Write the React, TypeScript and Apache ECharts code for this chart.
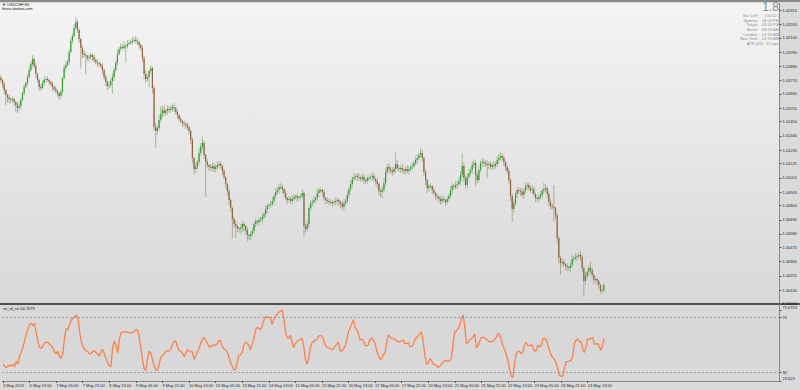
import React, { useEffect, useRef } from "react";
import * as echarts from "echarts";

const FIRST_OPEN = 1.0179;

const CLOSES = [
  1.01773,1.01742,1.01695,1.01657,1.01641,1.01626,
  1.01618,1.01626,1.01602,1.01579,1.01556,1.01571,
  1.01618,1.01672,1.01719,1.01750,1.01796,1.01850,
  1.01897,1.01936,1.01881,1.01819,1.01773,1.01719,
  1.01711,1.01750,1.01773,1.01781,1.01773,1.01757,
  1.01742,1.01719,1.01703,1.01688,1.01672,1.01649,
  1.01680,1.01788,1.01866,1.01889,1.01912,1.01990,
  1.02075,1.02114,1.02176,1.02222,1.02160,1.02091,
  1.02021,1.01974,1.01967,1.01959,1.01943,1.01951,
  1.01967,1.01951,1.01928,1.01912,1.01905,1.01897,
  1.01881,1.01850,1.01796,1.01757,1.01726,1.01734,
  1.01765,1.01796,1.01850,1.01905,1.01974,1.02013,
  1.02029,1.02021,1.02036,1.02036,1.02052,1.02060,
  1.02067,1.02075,1.02083,1.02075,1.02067,1.02044,
  1.02021,1.01943,1.01819,1.01781,1.01796,1.01843,
  1.01866,1.01711,1.01409,1.01378,1.01401,1.01463,
  1.01509,1.01540,1.01517,1.01533,1.01548,1.01540,
  1.01548,1.01564,1.01556,1.01525,1.01502,1.01471,
  1.01455,1.01440,1.01432,1.01424,1.01409,1.01378,
  1.01308,1.01168,1.01083,1.01099,1.01137,1.01207,
  1.01254,1.01285,1.01192,1.01137,1.01114,1.01099,
  1.01091,1.01106,1.01083,1.01099,1.01114,1.01122,
  1.01106,1.01068,1.01021,1.00967,1.00913,1.00843,
  1.00781,1.00696,1.00657,1.00641,1.00626,1.00618,
  1.00626,1.00657,1.00641,1.00610,1.00572,1.00564,
  1.00579,1.00603,1.00657,1.00680,1.00672,1.00688,
  1.00696,1.00711,1.00734,1.00773,1.00796,1.00804,
  1.00812,1.00835,1.00874,1.00905,1.00920,1.00944,
  1.00944,1.00928,1.00897,1.00858,1.00843,1.00851,
  1.00835,1.00851,1.00866,1.00874,1.00858,1.00866,
  1.00874,1.00897,1.00641,1.00618,1.00657,1.00781,
  1.00820,1.00827,1.00843,1.00858,1.00897,1.00920,
  1.00920,1.00905,1.00858,1.00843,1.00835,1.00827,
  1.00827,1.00820,1.00827,1.00835,1.00843,1.00827,
  1.00812,1.00789,1.00820,1.00835,1.00882,1.00928,
  1.00967,1.01006,1.01021,1.01029,1.01021,1.01013,
  1.01006,1.01021,1.00998,1.00990,1.01013,1.01013,
  1.01021,1.01029,1.01006,1.00990,1.00967,1.00913,
  1.00905,1.00920,1.00975,1.01060,1.01099,1.01083,
  1.01068,1.01060,1.01083,1.01122,1.01091,1.01083,
  1.01091,1.01075,1.01068,1.01083,1.01068,1.01083,
  1.01099,1.01106,1.01130,1.01153,1.01168,1.01192,
  1.01207,1.01168,1.01060,1.00998,1.00936,1.00951,
  1.00951,1.00920,1.00897,1.00874,1.00866,1.00851,
  1.00835,1.00851,1.00843,1.00827,1.00851,1.00874,
  1.00920,1.00951,1.00944,1.00959,1.00967,1.00990,
  1.01037,1.01106,1.01013,1.00959,1.01021,1.01052,
  1.01075,1.01114,1.01130,1.01037,1.00998,1.01075,
  1.01130,1.01137,1.01130,1.01122,1.01114,1.01122,
  1.01099,1.01114,1.01106,1.01122,1.01153,1.01168,
  1.01184,1.01168,1.01137,1.01099,1.01068,1.00998,
  1.00874,1.00773,1.00820,1.00889,1.00920,1.00913,
  1.00905,1.00882,1.00913,1.00951,1.00959,1.00936,
  1.00920,1.00928,1.00889,1.00858,1.00851,1.00866,
  1.00882,1.00913,1.00928,1.00936,1.00889,1.00827,
  1.00796,1.00789,1.00781,1.00727,1.00548,1.00393,
  1.00355,1.00362,1.00347,1.00331,1.00324,1.00316,
  1.00339,1.00386,1.00393,1.00401,1.00409,1.00417,
  1.00401,1.00316,1.00215,1.00254,1.00285,1.00316,
  1.00300,1.00262,1.00223,1.00230,1.00215,1.00184,
  1.00138,1.00145,1.00184,
];

const UP_WICK_PIPS = [
  2,1,2,1,1,2, 1,2,1,1,2,3, 2,1,2,1,2,3, 2,3,1,2,1,1, 2,2,3,1,2,1, 1,2,1,2,1,1,
  2,1,2,3,2,2, 3,2,3,4,2,1, 1,2,3,2,1,2, 2,1,2,1,2,1, 1,2,1,2,1,3, 2,3,2,2,3,2,
  3,2,4,2,3,2, 2,3,2,3,2,1, 1,2,2,3,2,1, 2,1,2,3,2,4, 6,3,4,2,3,2, 3,2,3,1,2,1,
  2,1,2,1,2,1, 1,2,1,3,2,4, 3,5,2,1,2,1, 2,3,2,2,3,2, 2,1,2,1,1,2, 1,1,2,3,2,1,
  3,2,2,1,2,1, 2,3,2,2,1,2, 2,3,2,3,2,2, 2,3,2,3,2,2, 3,2,1,2,1,2, 2,3,2,1,2,1,
  2,3,1,2,3,2, 2,2,3,2,3,2, 2,1,2,1,2,2, 2,1,2,3,2,1, 1,2,3,2,3,2, 3,2,3,2,2,3,
  2,3,2,1,2,2, 2,3,2,1,2,1, 2,3,4,3,2,3, 2,3,2,9,3,2, 2,3,2,2,3,2, 2,3,2,3,3,2,
  4,2,1,2,1,2, 2,1,2,1,2,1, 2,3,2,1,2,2, 3,2,2,3,2,3, 3,10,3,2,3,3, 2,3,3,2,2,3,
  2,3,2,2,3,2, 2,2,3,2,3,3, 3,2,2,1,2,2, 1,2,3,2,2,2, 2,3,2,3,2,2, 2,3,2,1,2,2,
  3,2,5,3,1,2, 2,2,17,1,2,1, 2,3,2,1,2,1, 2,3,2,3,2,2, 3,2,1,3,2,2, 5,2,1,2,1,1,
  1,2,2,
];

const DOWN_WICK_PIPS = [
  2,3,3,8,4,3, 3,2,3,5,4,2, 2,1,2,1,2,1, 1,2,2,3,2,3, 2,1,2,2,1,2, 2,3,2,2,3,3,
  2,2,1,2,1,2, 1,2,1,1,2,3, 16,3,2,14,2,3, 2,3,2,2,3,2, 2,3,2,3,3,2, 2,10,3,2,2,1,
  2,1,2,12,2,1, 1,2,1,2,2,3, 2,3,4,3,2,8, 2,4,3,13,3,2, 2,3,2,2,3,2, 2,2,3,2,3,2,
  2,3,2,3,2,3, 3,4,4,3,2,2, 2,2,3,27,2,3, 2,3,2,3,2,2, 2,3,2,3,3,4, 3,15,3,9,3,3,
  4,3,4,3,5,3, 3,2,2,3,2,3, 2,3,2,2,3,2, 2,2,3,2,2,3, 2,3,3,2,3,2, 2,3,2,2,3,2,
  2,2,8,3,2,3, 2,3,2,2,2,3, 2,3,2,3,2,2, 2,3,2,2,3,3, 3,2,3,2,2,3, 2,3,2,2,3,2,
  2,2,3,2,2,3, 2,3,2,3,3,4, 4,5,2,3,2,3, 2,3,2,3,2,2, 3,2,3,2,2,3, 2,3,2,2,3,2,
  2,3,3,4,4,3, 2,3,2,3,2,3, 3,2,2,3,2,2, 2,3,2,2,3,2, 3,2,3,2,3,2, 2,3,2,9,3,2,
  2,3,3,2,10,3, 2,2,3,2,2,3, 2,2,3,3,2,3, 4,10,3,2,3,2, 3,2,3,2,3,2, 2,3,2,3,2,3,
  2,3,2,2,3,3, 3,2,11,3,4,4, 9,3,2,3,3,2, 3,2,3,2,3,2, 3,3,12,3,2,3, 3,2,3,2,3,3,
  2,2,2,
];

const RSI_OF_RSI = [
  36,34.5,33.5,34.5,35.3,34.6, 36,34.1,38,36,42,45, 48,53,58,62,65,66,
  64,66,59,53,48,47.5, 49.5,51.5,52.4,51.8,50.5,49.5, 48,45,43.5,45.5,41.4,40.3,
  44,55,62,61,65,68, 69.5,70.5,72,70,61,53, 49,47,45.8,45.1,43.5,43.5,
  45.5,45.8,44.5,43.2,42,45, 47,43.5,40,37,34.8,34.1, 48,53,50,44,54,58.9,
  59.4,59.7,59.7,59.5,59,58.8, 59.4,60,61.5,61,56,48, 39,32.5,31.5,40,45.5,44,
  39,35,31.7,31.7,36,41, 42,43.5,45.5,46,45.5,47, 50.5,52.6,53,49,46,45.5,
  44,41.5,43.5,46.5,46,45, 45,39.5,42,44.5,47.5,51, 54,55.5,53.5,51.5,49,48.5,
  49.5,50,50,51,53.5,53, 49,47.3,46.5,45,41,37, 34.5,31.5,32.5,37,42.5,42.7,
  45,50,52.2,51.5,49.5,46.5, 50.5,54.5,61,63,62.2,61.2, 63.5,68,71,70,70.5,70,
  65,69,71,72.5,74,74.8, 75.68,70,60,55.5,55,57.2, 52,48,51,52.7,53.4,54,
  54.9,49.5,40,36,40,48, 51.5,52.7,53.4,54,56.5,57, 56.4,54,50,48.5,48,47.3,
  46.6,47.5,49.2,50.8,52,45.5, 45.8,47,49.2,54,59.7,62.5, 65.5,68.5,62.5,61.5,58,53.7,
  54.5,53,50,49.2,50.5,54, 55.2,53.5,51,46,42,39.5, 40,43,44,52,57.5,56,
  54.9,54.9,54,53,52.4,52.4, 53,53.6,51,51,51.8,49, 48.8,50.5,54,55.5,56.8,58.2,
  59.5,52,42,36,36.5,40, 38.5,36.2,35.6,34.8,33.5,34.5, 36,37.5,38.5,38.7,38,38.5,
  40.3,52,59.3,60.5,62,64.5, 70,72,63,51,52,54, 54.5,56,58,48,49.5,53,
  55.5,55.8,55,54.3,53,52.4, 52.4,52.8,54.3,55.7,58.5,57.4, 53.5,49.5,46.5,43,38.5,32,
  27.2,26.3,37,43.5,45.5,45.3, 43.5,45,50.5,51.8,49.5,49.5, 50.3,48.5,45.5,46,49.8,48.5,
  49.5,54.5,54.6,54.3,50,46, 42.5,40.8,39.5,37,32.5,27.5, 27.3,27.3,33,37.8,37.8,38.2,
  38.7,42,51,53.5,54.5,52.5, 52.4,47,44.5,48.5,54.5,54, 55,55.5,50.5,50.8,51,48.5,
  46,50,54.7579,
];

const TIME_TICKS = [
  "3 May 2019", "6 May 13:00", "7 May 05:00", "7 May 21:00", "8 May 13:00",
  "9 May 05:00", "9 May 21:00", "10 May 13:00", "13 May 05:00", "13 May 21:00",
  "14 May 13:00", "15 May 05:00", "15 May 21:00", "16 May 13:00", "17 May 05:00",
  "17 May 21:00", "20 May 13:00", "21 May 05:00", "21 May 21:00", "22 May 13:00",
  "23 May 05:00", "23 May 21:00", "24 May 13:00",
];
const BARS_PER_TICK = 16;
const TOTAL_SLOTS = 468;

const PRICE_TICKS = [
  1.0004, 1.00145, 1.00255, 1.00365, 1.00475, 1.0058, 1.0069, 1.008, 1.00905,
  1.01015, 1.01125, 1.0123, 1.0134, 1.0145, 1.01555, 1.01665, 1.0177, 1.0188,
  1.0199, 1.021, 1.02205, 1.02315,
];
const IND_TICKS = [75.6753, 70, 30, 23.623];
const IND_LEVELS = [70, 30];

const INFO_LABELS = ["Bar Left:", "Sydney:", "Tokyo:", "Berlin:", "London:", "New York:"];
const INFO_VALUES = ["[ 00:02 ]", "04:59 PM", "03:59 PM", "08:59 AM", "07:59 AM", "02:59 AM"];

const FONT = "'Liberation Sans', Arial, sans-serif";

export default function App() {
  const ref = useRef<HTMLDivElement>(null);

  useEffect(() => {
    const chart = echarts.init(ref.current!, null, { renderer: "svg" });
    const cats = Array.from({ length: TOTAL_SLOTS }, (_, i) => String(i));
    const candles = CLOSES.map((c, i) => {
      const o = i === 0 ? FIRST_OPEN : CLOSES[i - 1];
      const h = Math.max(o, c) + UP_WICK_PIPS[i] * 0.0001;
      const l = Math.min(o, c) - DOWN_WICK_PIPS[i] * 0.0001;
      return [i, o, c, l, h];
    });
    const last = CLOSES[CLOSES.length - 1];
    const isTick = (idx: number) => idx % BARS_PER_TICK === 0 && idx / BARS_PER_TICK < TIME_TICKS.length;

    const rowTop = 13.6;
    const rowStep = 4.6;
    const infoTexts: any[] = [];
    INFO_LABELS.forEach((lab, k) => {
      const y = rowTop + k * rowStep;
      infoTexts.push({
        type: "text", right: 42, top: y,
        style: { text: lab, fill: "#8a8a8a", font: `4px ${FONT}`, textAlign: "right" },
      });
      infoTexts.push({
        type: "text", right: 21, top: y,
        style: { text: INFO_VALUES[k], fill: "#8a8a8a", font: `4px ${FONT}`, textAlign: "right" },
      });
    });
    infoTexts.push({
      type: "text", right: 21, top: rowTop + 6 * rowStep,
      style: { text: "ATR (20):  19 pips", fill: "#8a8a8a", font: `4px ${FONT}`, textAlign: "right" },
    });

    chart.setOption({
      animation: false,
      backgroundColor: "#dadada",
      grid: [
        {
          left: 0, top: 3, width: 780, height: 301, show: true, borderWidth: 0,
          backgroundColor: new echarts.graphic.LinearGradient(0, 0, 0, 1, [
            { offset: 0, color: "#f4f4f4" },
            { offset: 1, color: "#d8d8d8" },
          ]),
        },
        { left: 0, top: 305, width: 780, height: 76, show: true, borderWidth: 0, backgroundColor: "#d8d8d8" },
      ],
      xAxis: [
        {
          type: "category", gridIndex: 0, data: cats, boundaryGap: true,
          axisLine: { show: false }, axisTick: { show: false }, axisLabel: { show: false },
        },
        {
          type: "category", gridIndex: 1, data: cats, boundaryGap: true,
          axisLine: { show: true, onZero: false, lineStyle: { color: "#8a8a8a", width: 1 } },
          axisTick: { show: true, length: 2, alignWithLabel: true, interval: (idx: number) => isTick(idx), lineStyle: { color: "#555" } },
          axisLabel: {
            show: true, interval: (idx: number) => isTick(idx), align: "left", margin: 2,
            fontSize: 4, fontFamily: FONT, color: "#1a1a1a",
            formatter: (_v: string, idx: number) => TIME_TICKS[idx / BARS_PER_TICK] ?? "",
          },
        },
      ],
      yAxis: [
        {
          type: "value", gridIndex: 0, position: "right", min: 1.00037, max: 1.0237,
          splitLine: { show: false },
          axisLine: { show: true, lineStyle: { color: "#8a8a8a", width: 1 } },
          axisTick: { show: true, length: 2, customValues: PRICE_TICKS, lineStyle: { color: "#555" } },
          axisLabel: {
            show: true, customValues: PRICE_TICKS, margin: 3, fontSize: 4, fontFamily: FONT, color: "#1a1a1a",
            formatter: (v: number) => v.toFixed(5),
          },
        },
        {
          type: "value", gridIndex: 1, position: "right", min: 23.623, max: 79.34,
          splitLine: { show: false },
          axisLine: { show: true, lineStyle: { color: "#8a8a8a", width: 1 } },
          axisTick: { show: true, length: 2, customValues: IND_TICKS, lineStyle: { color: "#555" } },
          axisLabel: {
            show: true, customValues: IND_TICKS, margin: 3, fontSize: 4, fontFamily: FONT, color: "#1a1a1a",
            formatter: (v: number) => (IND_LEVELS.includes(v) ? `{n|${v}}` : `{s|${v}}`),
            rich: {
              n: { fontSize: 4, fontFamily: FONT, color: "#1a1a1a" },
              s: { fontSize: 4, fontFamily: FONT, color: "#1a1a1a", padding: [0, 0, 5, 0] },
            },
          },
        },
      ],
      series: [
        {
          type: "custom", xAxisIndex: 0, yAxisIndex: 0, clip: true,
          data: candles,
          encode: { x: 0, y: [1, 2, 3, 4] },
          renderItem: (_p: any, api: any) => {
            const i = api.value(0);
            const o = api.value(1), c = api.value(2), l = api.value(3), h = api.value(4);
            const pO = api.coord([i, o]);
            const pC = api.coord([i, c]);
            const pL = api.coord([i, l]);
            const pH = api.coord([i, h]);
            const x = pO[0];
            const up = c >= o;
            const top = Math.min(pO[1], pC[1]);
            const ht = Math.max(Math.abs(pO[1] - pC[1]), 0.8);
            return {
              type: "group",
              children: [
                {
                  type: "line",
                  shape: { x1: x, y1: pH[1], x2: x, y2: pL[1] },
                  style: { stroke: up ? "#9fc098" : "#b3a892", lineWidth: 1 },
                },
                {
                  type: "rect",
                  shape: { x: x - 0.6, y: top, width: 1.2, height: ht },
                  style: { fill: up ? "#2e9e2e" : "#8f6238" },
                },
              ],
            };
          },
          markLine: {
            silent: true, symbol: ["none", "none"], animation: false,
            lineStyle: { color: "#c2c2c2", type: "solid", width: 1 },
            label: {
              show: true, position: "end", distance: 1, formatter: last.toFixed(5),
              backgroundColor: "#000", color: "#fff", fontSize: 4, fontFamily: FONT, padding: [1, 1],
            },
            data: [{ yAxis: last }],
          },
        },
        {
          type: "line", xAxisIndex: 1, yAxisIndex: 1, data: RSI_OF_RSI,
          showSymbol: false, symbol: "none",
          lineStyle: { color: "#ff7f45", width: 1.3 },
          markLine: {
            silent: true, symbol: ["none", "none"], animation: false,
            lineStyle: { color: "#8c8c8c", type: [2, 2], width: 0.8 },
            label: { show: false },
            data: IND_LEVELS.map((v) => ({ yAxis: v })),
          },
        },
      ],
      graphic: [
        { type: "rect", left: 0, top: 0, shape: { width: 800, height: 2 }, style: { fill: "#8a8a8a" } },
        { type: "rect", left: 0, top: 303, shape: { width: 800, height: 2 }, style: { fill: "#505050" } },
        {
          type: "text", left: 2, top: 2,
          style: { text: "▼ USDCHF,H1", fill: "#111", font: `4px ${FONT}` },
        },
        {
          type: "text", left: 2, top: 6,
          style: { text: "forex-station.com", fill: "#111", font: `4px ${FONT}` },
        },
        {
          type: "text", right: 21, top: 1,
          style: { text: "1.8", fill: "#8a8a8a", font: `12px ${FONT}`, textAlign: "right" },
        },
        ...infoTexts,
        {
          type: "text", left: 3, top: 306,
          style: { text: "rsi_of_rsi 54.7579", fill: "#111", font: `4px ${FONT}` },
        },
      ],
    });

    return () => chart.dispose();
  }, []);

  return (
    <div
      ref={ref}
      style={{ position: "fixed", left: 0, top: 0, width: 800, height: 390, background: "#dadada" }}
    />
  );
}
